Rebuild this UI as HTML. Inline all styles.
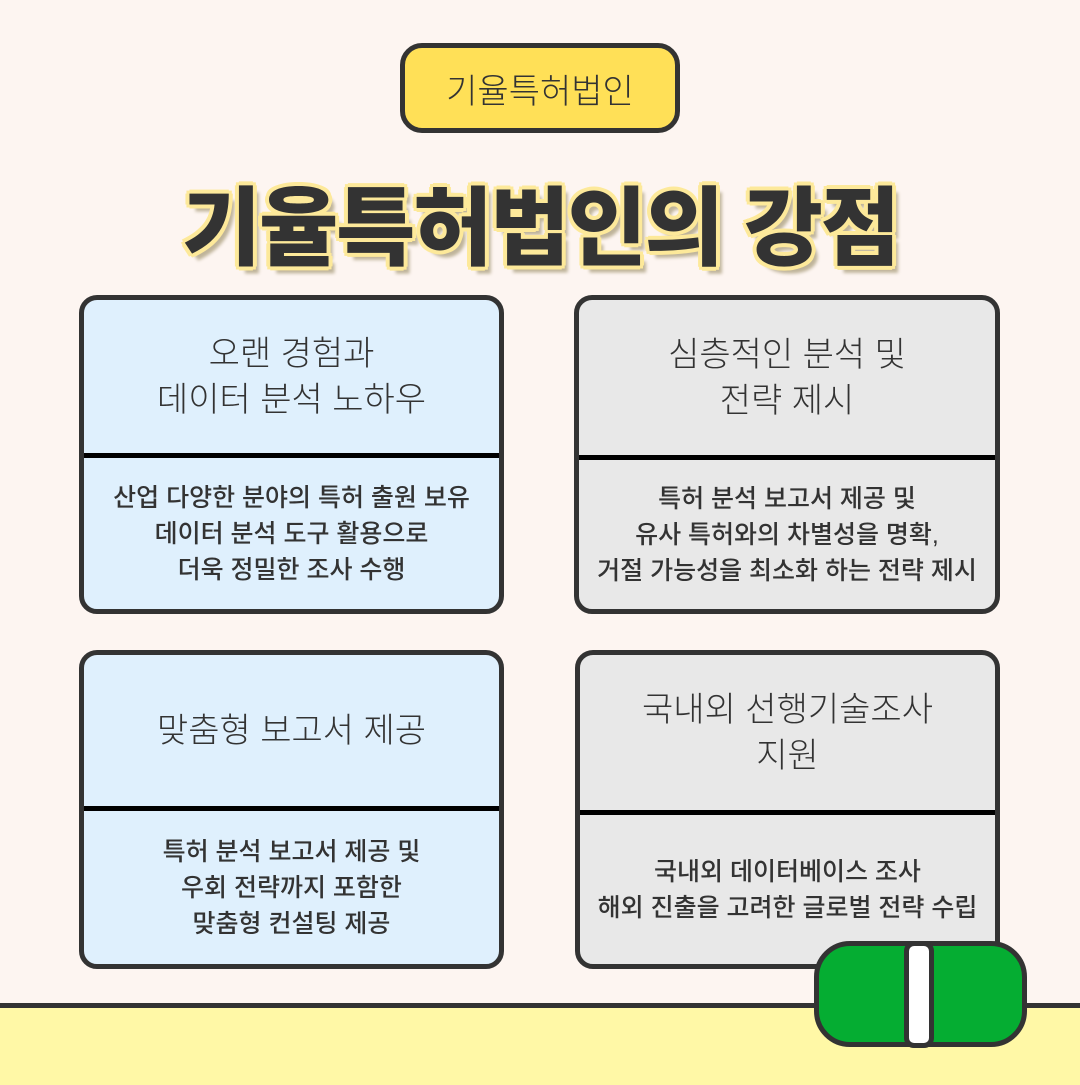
<!DOCTYPE html>
<html><head><meta charset="utf-8"><style>
body{margin:0;width:1080px;height:1080px;background:#fdf5f1;position:relative;overflow:hidden;font-family:"Liberation Sans","Noto Sans CJK KR",sans-serif;color:#333}
.pill{position:absolute;left:400px;top:43px;width:270px;height:80px;border:5px solid #333;border-radius:22px;background:#ffe057;display:flex;align-items:center;justify-content:center;font-size:34px;font-weight:300}
.title{position:absolute;left:0;width:1080px;top:158px;text-align:center;font-size:86px;font-weight:900;color:#333;letter-spacing:-2px;text-shadow:3px 3px 0 #fde99a,-3px -3px 0 #fde99a,3px -3px 0 #fde99a,-3px 3px 0 #fde99a,0 4px 0 #fde99a,4px 0 0 #fde99a,0 -4px 0 #fde99a,-4px 0 0 #fde99a,6px 7px 3px #bfb49a}
.card{position:absolute;border:5px solid #333;border-radius:18px;overflow:hidden;box-sizing:border-box}
.b{background:#dff0fd}.g{background:#e8e8e8}
.h{position:absolute;left:0;right:0;display:flex;align-items:center;justify-content:center;text-align:center;font-size:34px;font-weight:300;line-height:46px}
.d{position:absolute;left:0;right:0;border-top:5px solid #000;bottom:0;display:flex;align-items:center;justify-content:center;text-align:center;font-size:25px;font-weight:500;line-height:36px;white-space:nowrap}
.band{position:absolute;left:0;top:1003px;width:1080px;height:77px;background:#fff8a6;border-top:5px solid #333}
.aid{position:absolute;left:814px;top:941px;width:213px;height:106px;box-sizing:border-box;border:5px solid #333;border-radius:36px;background:#05ad32}
.strip{position:absolute;left:904px;top:941px;width:30px;height:107px;box-sizing:border-box;border:5px solid #333;border-radius:10px;background:#fff}
</style></head><body>
<div class="pill">기율특허법인</div>
<div class="title">기율특허법인의 강점</div>

<div class="card b" style="left:79px;top:295px;width:425px;height:319px">
<div class="h" style="top:0;height:153px">오랜 경험과<br>데이터 분석 노하우</div>
<div class="d" style="top:153px">산업 다양한 분야의 특허 출원 보유<br>데이터 분석 도구 활용으로<br>더욱 정밀한 조사 수행</div></div>

<div class="card g" style="left:574px;top:295px;width:426px;height:319px">
<div class="h" style="top:0;height:155px">심층적인 분석 및<br>전략 제시</div>
<div class="d" style="top:155px">특허 분석 보고서 제공 및<br>유사 특허와의 차별성을 명확,<br>거절 가능성을 최소화 하는 전략 제시</div></div>

<div class="card b" style="left:79px;top:650px;width:425px;height:319px">
<div class="h" style="top:0;height:151px">맞춤형 보고서 제공</div>
<div class="d" style="top:151px">특허 분석 보고서 제공 및<br>우회 전략까지 포함한<br>맞춤형 컨설팅 제공</div></div>

<div class="card g" style="left:575px;top:650px;width:425px;height:319px">
<div class="h" style="top:0;height:155px">국내외 선행기술조사<br>지원</div>
<div class="d" style="top:155px">국내외 데이터베이스 조사<br>해외 진출을 고려한 글로벌 전략 수립</div></div>

<div class="band"></div>
<div class="aid"></div>
<div class="strip"></div>
</body></html>
